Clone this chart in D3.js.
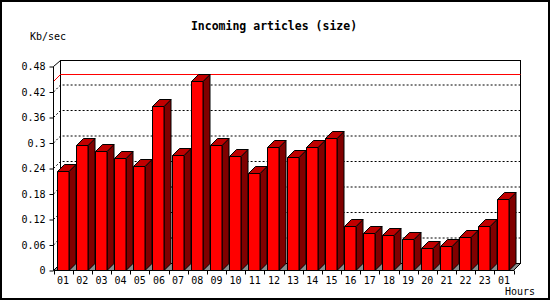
<!DOCTYPE html>
<html>
<head>
<meta charset="utf-8">
<script src="https://cdn.jsdelivr.net/npm/d3@7"></script>
<style>
  body { margin: 0; background: #fff; }
  svg text { font-family: "DejaVu Sans Mono", monospace; fill: #000; }
</style>
</head>
<body>
<div id="chart"></div>
<script>
const width = 550;
const height = 300;

// data
const hours = ["01","02","03","04","05","06","07","08","09","10","11","12",
               "13","14","15","16","17","18","19","20","21","22","23","01"];
const kbPerSec = [0.235, 0.296, 0.282, 0.265, 0.246, 0.386, 0.272, 0.447,
                  0.296, 0.270, 0.229, 0.291, 0.267, 0.291, 0.312, 0.105,
                  0.089, 0.084, 0.075, 0.053, 0.058, 0.079, 0.105, 0.168];
const yTicks = [0, 0.06, 0.12, 0.18, 0.24, 0.3, 0.36, 0.42, 0.48];

const plot = { left: 53.5, right: 513.5, bottom: 270.5, top: 66.5, wallTop: 60.5 };
const depth = 7; // 3d offset, right and up

const svg = d3.select("#chart")
  .append("svg")
  .attr("width", width)
  .attr("height", height);

svg.append("rect")
  .attr("x", 1).attr("y", 1)
  .attr("width", width - 2).attr("height", height - 2)
  .attr("fill", "#fff")
  .attr("stroke", "#000")
  .attr("stroke-width", 2);

const x = d3.scaleBand()
  .domain(d3.range(hours.length))
  .range([plot.left, plot.right]);

const y = d3.scaleLinear()
  .domain([0, 0.48])
  .range([plot.bottom, plot.top]);

// back wall
svg.append("rect")
  .attr("x", plot.left + depth)
  .attr("y", plot.wallTop)
  .attr("width", plot.right - plot.left)
  .attr("height", plot.bottom - depth - plot.wallTop)
  .attr("fill", "#fff")
  .attr("stroke", "#000")
  .attr("shape-rendering", "crispEdges");

// dotted grid, front axis -> back wall
svg.append("g")
  .selectAll("path")
  .data(yTicks.filter(d => d > 0 && d < 0.48))
  .enter()
  .append("path")
  .attr("d", d => "M" + plot.left + "," + y(d) +
    "L" + (plot.left + depth) + "," + (y(d) - depth) +
    "H" + (plot.right + depth))
  .attr("fill", "none")
  .attr("stroke", "#000")
  .attr("stroke-dasharray", "2,2");

// max line
const maxVal = d3.max(kbPerSec);
const yMax = Math.round(y(maxVal)) + 0.5;
svg.append("path")
  .attr("d", "M" + plot.left + "," + yMax +
    "L" + (plot.left + depth) + "," + (yMax - depth) +
    "H" + (plot.right + depth))
  .attr("fill", "none")
  .attr("stroke", "#ff0000");

// floor
svg.append("path")
  .attr("d", "M" + plot.left + "," + plot.bottom +
    "H" + plot.right +
    "L" + (plot.right + depth) + "," + (plot.bottom - depth) +
    "H" + (plot.left + depth) + "Z")
  .attr("fill", "#8c8c8c")
  .attr("stroke", "#000");

// bars
const barW = 11.5;
const bars = svg.append("g")
  .selectAll("g")
  .data(kbPerSec)
  .enter()
  .append("g")
  .attr("stroke", "#000")
  .attr("stroke-linejoin", "round");

bars.each(function (d, i) {
  const g = d3.select(this);
  const xl = Math.round(x(i) + 3) + 0.5;
  const xr = xl + barW;
  const yt = Math.round(y(d)) + 0.5;
  g.append("path")
    .attr("d", "M" + xr + "," + plot.bottom + "V" + yt +
      "L" + (xr + depth) + "," + (yt - depth) +
      "V" + (plot.bottom - depth) + "Z")
    .attr("fill", "#800000");
  g.append("path")
    .attr("d", "M" + xl + "," + yt + "H" + xr +
      "L" + (xr + depth) + "," + (yt - depth) +
      "H" + (xl + depth) + "Z")
    .attr("fill", "#c00000");
  g.append("rect")
    .attr("x", xl).attr("y", yt)
    .attr("width", barW)
    .attr("height", plot.bottom - yt)
    .attr("fill", "#ff0000");
});

// left axis
const yAxis = d3.axisLeft(y)
  .tickValues(yTicks)
  .tickFormat(d3.format(".2~f"))
  .tickSizeOuter(0)
  .tickSizeInner(4)
  .tickPadding(4);

svg.append("g")
  .attr("transform", "translate(" + plot.left + ",0)")
  .call(yAxis)
  .call(g => g.selectAll("text").style("font-size", "10px").attr("font-family", null))
  .call(g => g.select(".domain").attr("d", "M0," + plot.top + "V" + plot.bottom));

svg.append("path")
  .attr("d", "M" + plot.left + "," + plot.top +
    "L" + (plot.left + depth) + "," + plot.wallTop)
  .attr("stroke", "#000");

// bottom axis
svg.append("path")
  .attr("d", "M" + plot.left + "," + plot.bottom + "H" + plot.right)
  .attr("stroke", "#000")
  .attr("shape-rendering", "crispEdges");

svg.append("g")
  .selectAll("line")
  .data(d3.range(hours.length + 1))
  .enter()
  .append("line")
  .attr("x1", d => Math.round(plot.left + d * x.step()) + 0.5)
  .attr("x2", d => Math.round(plot.left + d * x.step()) + 0.5)
  .attr("y1", plot.bottom)
  .attr("y2", plot.bottom + 4)
  .attr("stroke", "#000");

svg.append("g")
  .selectAll("text")
  .data(hours)
  .enter()
  .append("text")
  .attr("x", (d, i) => x(i) + x.bandwidth() / 2)
  .attr("y", 283.5)
  .attr("text-anchor", "middle")
  .style("font-size", "10px")
  .text(d => d);

// titles
svg.append("text")
  .attr("x", 274)
  .attr("y", 30)
  .attr("text-anchor", "middle")
  .style("font-size", "11.5px")
  .style("font-weight", "bold")
  .text("Incoming articles (size)");

svg.append("text")
  .attr("x", 30)
  .attr("y", 40)
  .style("font-size", "10px")
  .text("Kb/sec");

svg.append("text")
  .attr("x", 505)
  .attr("y", 295)
  .style("font-size", "10px")
  .text("Hours");
</script>
</body>
</html>
